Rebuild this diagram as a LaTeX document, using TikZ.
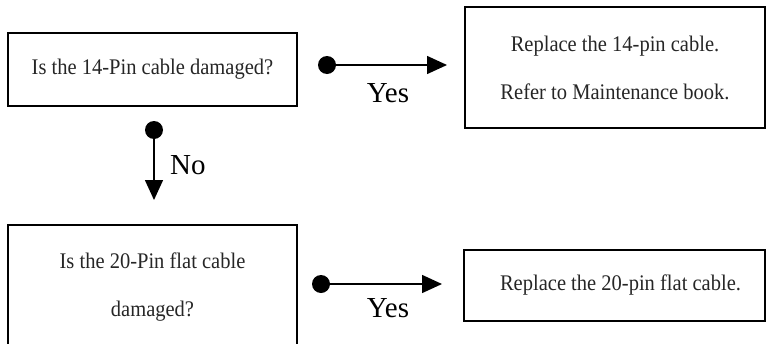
\documentclass[tikz,border=0pt]{standalone}
\usepackage{fontspec}
\setmainfont{Liberation Serif}
\newfontfamily\boxfont[FakeStretch=0.92]{Liberation Serif}
\usetikzlibrary{arrows.meta}
\tikzset{
  stepbox/.style={draw=black, line width=1.6pt, rectangle, inner sep=0pt, align=center,
    text=black!85, font=\boxfont\fontsize{22.3}{48}\selectfont},
  dotnode/.style={circle, fill=black, inner sep=0pt, minimum size=18pt},
  flow/.style={line width=1.5pt, -{Triangle[length=20pt,width=18pt]}},
  answer/.style={font=\fontsize{29}{34}\selectfont, text=black, inner sep=0pt}
}
\begin{document}
\begin{tikzpicture}[x=1pt,y=-1pt]
\useasboundingbox (0,0) rectangle (766,343);
\clip (0,0) rectangle (766,343);
% boxes
\node[stepbox, minimum width=289pt, minimum height=73pt] (q1) at (152.5,69.5) {Is the 14-Pin cable damaged?};
\node[stepbox, minimum width=300pt, minimum height=121pt] (r1) at (615,67.5) {Replace the 14-pin cable.\\Refer to Maintenance book.};
\node[stepbox, minimum width=289pt, minimum height=125pt] (q2) at (152.5,287.5) {Is the 20-Pin flat cable\\damaged?};
\node[stepbox, minimum width=301pt, minimum height=71pt] (r2) at (614.5,285.5) {\hspace*{12pt}Replace the 20-pin flat cable.};
% dots and arrow ends
\node[dotnode] (d1) at (327,65) {};
\coordinate (e1) at (447,65);
\node[dotnode] (d2) at (154,130) {};
\coordinate (e2) at (154,200);
\node[dotnode] (d3) at (321,284) {};
\coordinate (e3) at (442,284);
% connectors
\draw[flow] (d1.center) -- (e1);
\draw[flow] (d2.center) -- (e2);
\draw[flow] (d3.center) -- (e3);
% labels
\node[answer] (y1) at (388,93) {Yes};
\node[answer, anchor=west] (n1) at (170,165) {No};
\node[answer] (y2) at (388,308) {Yes};
\end{tikzpicture}
\end{document}
